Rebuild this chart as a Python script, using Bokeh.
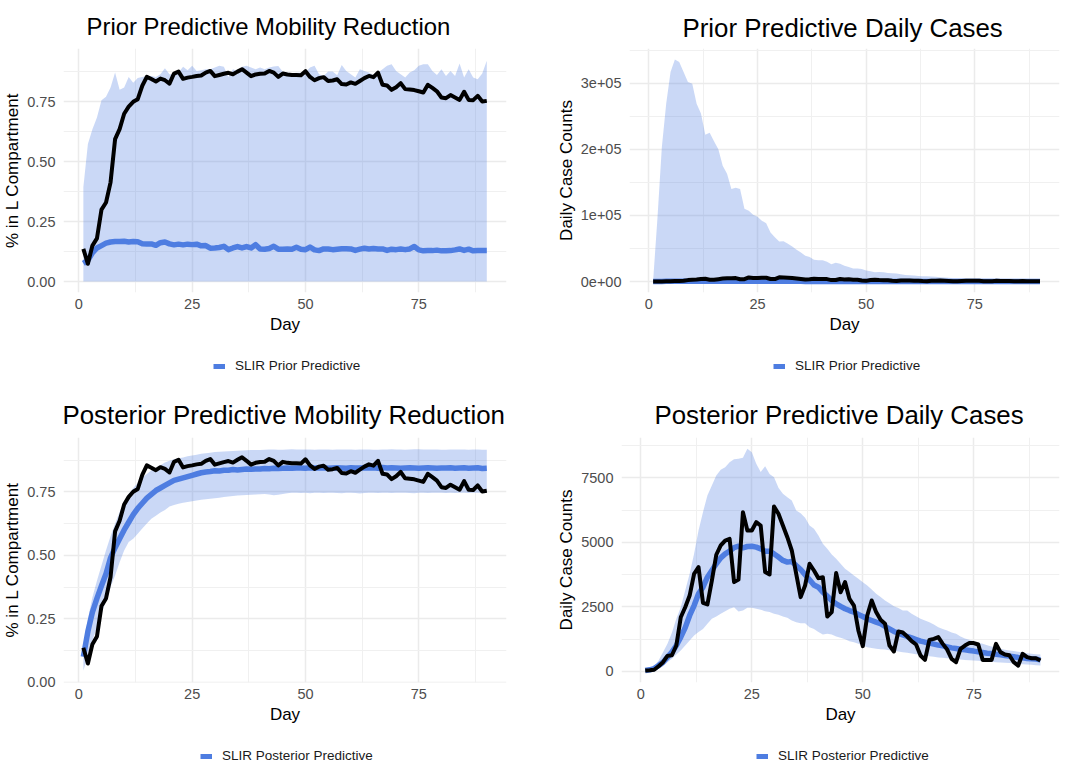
from bokeh.plotting import figure
from bokeh.layouts import column, row
from bokeh.models import FixedTicker, Legend, LegendItem, Title, Range1d, ColumnDataSource
from bokeh.embed import file_html
from bokeh.resources import INLINE

days = list(range(1, 91))

mobility_obs = [.136,.074,.150,.180,.300,.330,.414,.594,.636,.700,.730,.750,.761,.817,.854,.845,.835,.847,.840,.826,
.868,.876,.846,.851,.854,.858,.860,.872,.879,.857,.862,.867,.871,.865,.876,.886,.872,.857,.864,.867,
.868,.879,.872,.854,.868,.864,.862,.862,.861,.878,.854,.840,.849,.853,.837,.839,.844,.824,.822,.831,
.825,.837,.849,.858,.853,.872,.821,.818,.800,.811,.828,.803,.801,.799,.794,.789,.821,.808,.794,.768,
.765,.778,.768,.758,.792,.758,.757,.775,.751,.754]

prior_mob_mean = [.076,.088,.120,.140,.150,.160,.165,.167,.167,.168,.165,.167,.166,.158,.157,.157,.151,.162,.165,.157,
.153,.156,.153,.156,.154,.156,.149,.150,.139,.140,.142,.147,.133,.140,.146,.140,.146,.140,.154,.136,
.135,.138,.147,.135,.135,.136,.135,.143,.135,.133,.144,.132,.129,.136,.136,.133,.135,.137,.137,.136,
.130,.135,.139,.136,.138,.136,.136,.130,.135,.133,.136,.133,.136,.146,.132,.128,.129,.129,.131,.128,
.128,.129,.132,.136,.130,.135,.128,.129,.129,.129]
prior_mob_hi = [.393,.574,.636,.685,.757,.771,.810,.872,.800,.810,.854,.830,.849,.854,.858,.858,.854,.865,.890,.865,
.865,.872,.896,.882,.900,.879,.882,.886,.886,.893,.900,.896,.854,.886,.879,.896,.900,.893,.886,.893,
.886,.893,.897,.899,.875,.872,.869,.871,.871,.873,.893,.900,.865,.858,.876,.876,.861,.904,.879,.865,
.851,.886,.879,.872,.861,.872,.886,.900,.907,.879,.865,.851,.872,.882,.900,.907,.907,.879,.862,.886,
.858,.879,.858,.910,.851,.886,.851,.844,.868,.921]
prior_mob_lo = [.000,.000,.000,.000,.000,.000,.000,.000,.000,.000,.000,.000,.000,.000,.000,.000,.000,.000,.000,.000,
.000,.000,.000,.000,.000,.000,.000,.000,.000,.000,.000,.000,.000,.000,.000,.000,.000,.000,.000,.000,
.000,.000,.000,.000,.000,.000,.000,.000,.000,.000,.000,.000,.000,.000,.000,.000,.000,.000,.000,.000,
.000,.000,.000,.000,.000,.000,.000,.000,.000,.000,.000,.000,.000,.000,.000,.000,.000,.000,.000,.000,
.000,.000,.000,.000,.000,.000,.000,.000,.000,.000]

post_mob_mean = [.100,.200,.276,.330,.380,.427,.490,.530,.565,.600,.630,.660,.685,.705,.725,.740,.755,.765,.775,.785,
.795,.800,.805,.810,.815,.820,.825,.828,.830,.833,.832,.835,.835,.838,.836,.838,.840,.839,.840,.840,
.842,.841,.843,.842,.843,.844,.843,.844,.844,.843,.845,.844,.844,.845,.843,.844,.845,.844,.843,.845,
.844,.844,.845,.844,.845,.843,.846,.844,.845,.844,.843,.844,.845,.844,.843,.844,.845,.844,.843,.844,
.844,.845,.843,.844,.845,.843,.844,.845,.842,.843]
post_mob_hi = [.140,.250,.335,.400,.460,.520,.575,.625,.670,.710,.740,.765,.785,.805,.820,.835,.845,.855,.865,.872,
.878,.882,.885,.890,.893,.896,.900,.902,.904,.907,.908,.909,.910,.911,.912,.913,.914,.915,.915,.915,
.916,.917,.917,.916,.916,.917,.918,.917,.917,.917,.917,.916,.917,.917,.917,.916,.917,.917,.917,.917,
.916,.917,.917,.917,.916,.916,.917,.917,.918,.917,.917,.916,.917,.918,.918,.917,.917,.917,.917,.916,
.916,.917,.917,.917,.917,.916,.917,.917,.916,.916]
post_mob_lo = [.046,.100,.164,.217,.270,.320,.375,.420,.473,.519,.552,.565,.585,.605,.625,.644,.656,.668,.678,.692,
.698,.703,.707,.710,.713,.716,.719,.721,.723,.725,.727,.729,.731,.733,.735,.736,.737,.738,.739,.740,
.741,.739,.736,.738,.741,.744,.746,.746,.745,.746,.744,.746,.746,.745,.746,.746,.745,.744,.746,.746,
.745,.743,.745,.746,.746,.745,.746,.746,.745,.746,.746,.746,.745,.744,.746,.746,.745,.746,.746,.746,
.745,.746,.745,.746,.746,.745,.746,.746,.745,.746]

cases_obs = [40,50,65,205,360,605,630,1005,2100,2490,2940,3780,4040,2660,2595,3520,4520,4880,5070,5135,
3460,3560,6170,5460,5460,5780,5650,3850,3755,6390,6105,5650,5200,4685,3780,2880,3330,4170,3910,3615,
3650,2130,2300,3810,3070,3460,2810,2555,1590,980,2170,2750,2300,2000,1850,1005,775,1550,1510,1355,
1175,1045,620,450,1225,1265,1330,1070,850,490,360,880,1005,1100,1100,1045,450,450,450,1070,
750,660,630,360,230,685,555,515,515,425]

prior_case_mean = [20,60,150,250,300,330,350,370,380,380,380,370,370,360,350,350,340,330,330,320,
310,300,300,290,280,270,260,250,240,230,220,220,210,200,200,190,190,180,180,170,
170,160,160,150,150,150,140,140,130,130,130,120,120,120,110,110,110,100,100,100,
100,90,90,90,90,80,80,80,80,70,70,70,70,70,60,60,60,60,60,50,
50,50,50,50,50,40,40,40,40,40]
prior_case_hi = [1500,97000,203000,269000,317000,336000,332000,317000,302000,299000,269000,254000,222000,225000,212000,200000,175000,163000,140000,142000,
140000,110000,107000,101000,98000,92000,88000,74000,67000,60500,61000,57000,53000,48000,44000,39000,37000,33000,32000,32000,
30000,26000,28500,27000,24000,22000,19500,19500,19000,16500,15500,14000,14500,14000,13000,12500,12000,11000,10000,9500,
9000,8500,8000,8000,7500,7000,6500,6000,5500,5000,5000,4800,4700,4600,4500,4400,4300,4200,4100,4000,
3900,3800,3700,3600,3500,3400,3300,3200,3100,3000]
prior_case_lo = [0,0,0,0,0,0,0,0,0,0,0,0,0,0,0,0,0,0,0,0,
0,0,0,0,0,0,0,0,0,0,0,0,0,0,0,0,0,0,0,0,
0,0,0,0,0,0,0,0,0,0,0,0,0,0,0,0,0,0,0,0,
0,0,0,0,0,0,0,0,0,0,0,0,0,0,0,0,0,0,0,0,
0,0,0,0,0,0,0,0,0,0]

post_case_mean = [40,65,115,230,360,555,750,1005,1330,1700,2170,2555,3010,3265,3650,3910,4170,4400,4555,4660,
4800,4850,4790,4840,4850,4815,4750,4660,4660,4555,4430,4300,4235,4260,4100,3950,3750,3550,3350,3265,
3070,2920,2750,2620,2520,2430,2360,2300,2210,2130,2040,1975,1910,1850,1745,1650,1550,1485,1420,1355,
1305,1240,1175,1135,1100,1060,1020,995,955,915,890,865,840,815,790,760,735,710,695,670,
645,620,595,570,540,530,505,490,480,450]
post_case_hi = [100,140,195,425,750,1070,1500,2040,2490,3135,3780,4555,5460,6170,6815,7200,7590,7810,7910,8105,
8220,8235,8275,8620,8490,8040,7720,7950,7650,7525,7110,6880,6750,6620,6235,6130,5950,5650,5525,5265,
4945,4750,4530,4365,4170,3975,3850,3720,3590,3460,3330,3175,3010,2880,2750,2645,2530,2455,2360,2360,
2235,2140,2040,1975,1910,1820,1715,1650,1590,1510,1460,1355,1280,1225,1175,1110,1070,1020,970,915,
880,840,815,790,760,735,710,685,670,660]
post_case_lo = [15,25,40,100,205,360,490,660,815,1005,1200,1395,1525,1650,1850,2040,2130,2235,2335,2430,
2490,2320,2360,2465,2465,2430,2390,2335,2300,2235,2195,2130,2080,1975,1910,1870,1870,1715,1650,1525,
1435,1460,1435,1355,1305,1250,1175,1135,1070,1005,940,905,880,865,850,825,800,775,750,725,
695,670,645,620,595,570,540,530,515,490,480,465,450,440,425,415,400,385,375,360,
350,335,325,310,295,285,270,260,245,230]

titles = ["Prior Predictive Mobility Reduction", "Prior Predictive Daily Cases",
          "Posterior Predictive Mobility Reduction", "Posterior Predictive Daily Cases"]
x_ticks = [0, 25, 50, 75]
x_minor = [12.5, 37.5, 62.5, 87.5]
x_labels = ["0", "25", "50", "75"]
mob_ticks = [0, .25, .5, .75]
mob_minor = [.125, .375, .625, .875]
mob_labels = ["0.00", "0.25", "0.50", "0.75"]
prior_ticks = [0, 100000, 200000, 300000]
prior_minor = [50000, 150000, 250000, 350000]
prior_labels = ["0e+00", "1e+05", "2e+05", "3e+05"]
post_ticks = [0, 2500, 5000, 7500]
post_minor = [1250, 3750, 6250, 8750]
post_labels = ["0", "2500", "5000", "7500"]

FONT = "Liberation Sans"
BLUE = "#4E7DE1"


def panel(title, title_size, title_standoff, title_off, left, fw, right, top, fh, bottom, xr, yr, yt, ym, yl, ylabel,
          lo, hi, mean, obs, series, leg_x, leg_h, leg_y):
    p = figure(frame_width=fw, frame_height=fh, min_border_left=left, min_border_right=right,
               min_border_top=top, min_border_bottom=bottom, output_backend="svg",
               toolbar_location=None, x_range=Range1d(*xr), y_range=Range1d(*yr),
               background_fill_color="white", border_fill_color="white")
    p.outline_line_color = None
    t = Title(text=title, text_font=FONT, text_font_size=title_size, text_font_style="normal",
              text_color="#000000", align="left", offset=title_off, standoff=title_standoff)
    p.add_layout(t, "above")
    for ax, lab, ticks, minor, labels in (
        (p.xaxis[0], "Day", x_ticks, x_minor, x_labels),
        (p.yaxis[0], ylabel, yt, ym, yl),
    ):
        ax.ticker = FixedTicker(ticks=ticks, minor_ticks=minor)
        ax.major_label_overrides = dict(zip(ticks, labels))
        ax.axis_label = lab
        ax.axis_label_text_font = FONT
        ax.axis_label_text_font_size = "17px"
        ax.axis_label_text_font_style = "normal"
        ax.axis_label_text_color = "#000000"
        ax.major_label_text_font = FONT
        ax.major_label_text_font_size = "14.5px"
        ax.major_label_text_color = "#4D4D4D"
        ax.axis_line_color = None
        ax.major_tick_line_color = None
        ax.minor_tick_line_color = None
        ax.major_tick_in = 0
        ax.major_tick_out = 0
        ax.minor_tick_out = 0
    p.xaxis[0].major_label_standoff = 6
    p.xaxis[0].axis_label_standoff = 3
    p.yaxis[0].major_label_standoff = 8
    p.yaxis[0].axis_label_standoff = 2
    for g in (p.xgrid[0], p.ygrid[0]):
        g.grid_line_color = "#EBEBEB"
        g.grid_line_width = 1.5
        g.minor_grid_line_color = "#F0F0F0"
        g.minor_grid_line_width = 1
    p.xgrid[0].ticker = p.xaxis[0].ticker
    p.ygrid[0].ticker = p.yaxis[0].ticker

    src = ColumnDataSource(dict(day=days, lo=lo, hi=hi, mean=mean, obs=obs))
    p.varea(x="day", y1="lo", y2="hi", source=src, fill_color=BLUE, fill_alpha=0.3)
    p.line(x="day", y="mean", source=src, line_color=BLUE, line_width=5.5, line_join="round")
    p.line(x="day", y="obs", source=src, line_color="#000000", line_width=4, line_join="round")

    # The legend sits in its own strip below the panel; its key line is the same series,
    # with the strip's ranges set beyond the data so only the key shows.
    strip = figure(width=left + fw + right, height=leg_h, output_backend="svg", toolbar_location=None,
                   x_axis_location=None, y_axis_location=None, min_border=0,
                   x_range=Range1d(1000, 1001), y_range=Range1d(1000, 1001),
                   background_fill_color="white", border_fill_color="white")
    strip.outline_line_color = None
    strip.grid.visible = False
    m = strip.line(x="day", y="mean", source=src, line_color=BLUE, line_width=5)
    leg = Legend(items=[LegendItem(label=series, renderers=[m])], location=(leg_x, leg_y),
                 orientation="horizontal", padding=0, margin=0, spacing=0, glyph_width=12, glyph_height=14,
                 label_standoff=10, label_text_font=FONT, label_text_font_size="13.5px", label_height=14,
                 label_text_color="#1A1A1A", border_line_color=None, background_fill_alpha=0)
    strip.add_layout(leg, "center")
    return column(p, strip)


p1 = panel(titles[0], "23.9px", 17, 23, 53, 443, 26, 48, 244, 50, (-3.38, 94.35), (-.0458, .9725), mob_ticks, mob_minor, mob_labels,
           "% in L Compartment", prior_mob_lo, prior_mob_hi, prior_mob_mean, mobility_obs, "SLIR Prior Predictive", 150, 43, 12)
p2 = panel(titles[1], "25.85px", 14, 53, 97, 430, 6, 48, 244, 50, (-4.44, 94.48), (-16640, 352500), prior_ticks, prior_minor, prior_labels,
           "Daily Case Counts", prior_case_lo, prior_case_hi, prior_case_mean, cases_obs, "SLIR Prior Predictive", 144, 43, 12)
p3 = panel(titles[2], "25.85px", 18, -1, 53, 443, 26, 52, 245, 48, (-3.38, 94.35), (-.001, .9638), mob_ticks, mob_minor, mob_labels,
           "% in L Compartment", post_mob_lo, post_mob_hi, post_mob_mean, mobility_obs, "SLIR Posterior Predictive", 137, 35, 2)
p4 = panel(titles[3], "25.85px", 18, 33, 89, 438, 6, 52, 245, 48, (-4.35, 94.3), (-426, 9060), post_ticks, post_minor, post_labels,
           "Daily Case Counts", post_case_lo, post_case_hi, post_case_mean, cases_obs, "SLIR Posterior Predictive", 135, 35, 2)

layout = column(row(p1, p2), row(p3, p4))
open("out.html", "w").write(file_html(layout, INLINE))
